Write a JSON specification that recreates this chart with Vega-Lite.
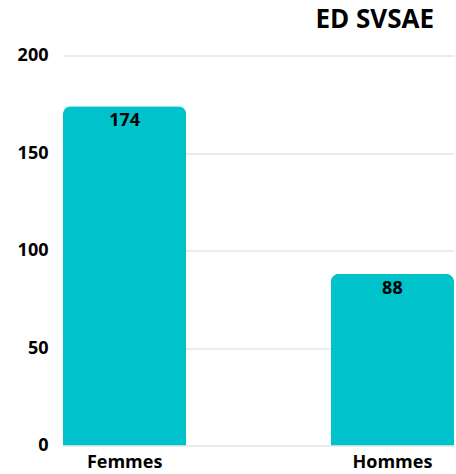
{
  "$schema": "https://vega.github.io/schema/vega-lite/v6.json",
  "width": 391,
  "height": 390,
  "autosize": {"type": "none"},
  "padding": {"left": 63, "top": 55.5, "right": 2, "bottom": 28.5},
  "background": "white",
  "config": {"view": {"stroke": null}},
  "title": {"text": "ED SVSAE", "anchor": "end", "font": "Open Sans", "fontSize": 26, "fontWeight": "bold", "color": "#000000", "dx": -20, "offset": 14},
  "data": {"values": [
    {"sexe": "Femmes", "n": 174},
    {"sexe": "Hommes", "n": 88}
  ]},
  "encoding": {
    "x": {"field": "sexe", "type": "nominal", "sort": null,
      "scale": {"paddingInner": 0.54, "paddingOuter": 0},
      "axis": {"title": null, "labelAngle": 0, "labelFont": "Open Sans", "labelFontSize": 18, "labelFontWeight": "bold", "labelColor": "#000000", "ticks": false, "domain": false, "labelPadding": 8}},
    "y": {"field": "n", "type": "quantitative",
      "scale": {"domain": [0, 200]},
      "axis": {"title": null, "values": [0, 50, 100, 150, 200], "labelFont": "Open Sans", "labelFontSize": 18, "labelFontWeight": "bold", "labelColor": "#000000", "ticks": false, "domain": false, "labelPadding": 15, "gridColor": "#d9d9d9", "gridWidth": 1}}
  },
  "layer": [
    {"mark": {"type": "bar", "color": "#00C2CA", "cornerRadiusTopLeft": 8, "cornerRadiusTopRight": 8}},
    {"mark": {"type": "text", "font": "Open Sans", "fontSize": 18, "fontWeight": "bold", "color": "#000000", "baseline": "alphabetic", "dy": 20},
      "encoding": {"text": {"field": "n", "type": "quantitative"}}}
  ]
}
